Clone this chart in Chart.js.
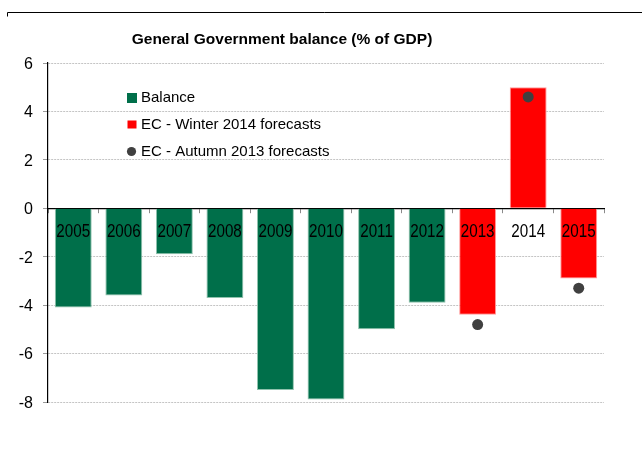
<!DOCTYPE html>
<html>
<head>
<meta charset="utf-8">
<script src="https://cdn.jsdelivr.net/npm/chart.js@4/dist/chart.umd.min.js"></script>
<style>
  html, body { margin: 0; padding: 0; background: #fff; }
  #wrap { width: 642px; height: 450px; position: relative; }
</style>
</head>
<body>
<div id="wrap"><canvas id="c" width="642" height="450"></canvas></div>
<script>
const categories = ['2005','2006','2007','2008','2009','2010','2011','2012','2013','2014','2015'];
const balance   = [-4.1, -3.6, -1.9, -3.7, -7.5, -7.9, -5.0, -3.9, null, null, null];
const winter2014 = [null, null, null, null, null, null, null, null, -4.4, 5.0, -2.9];
const autumn2013 = [null, null, null, null, null, null, null, null, -4.8, 4.6, -3.3];
const yTicks = [-8, -6, -4, -2, 0, 2, 4, 6];
const seriesNames = ['Balance', 'EC - Winter 2014 forecasts', 'EC - Autumn 2013 forecasts'];
const titleText = 'General Government balance (% of GDP)';

const GREEN = '#006F4A';
const RED = '#FF0000';
const DOT = '#404040';

const decor = {
  id: 'decor',
  afterDraw(chart) {
    const ctx = chart.ctx;
    ctx.save();
    // frame fragment at top
    ctx.strokeStyle = '#000';
    ctx.lineWidth = 1;
    ctx.beginPath();
    ctx.moveTo(7.5, 16.5);
    ctx.lineTo(7.5, 12.5);
    ctx.lineTo(642, 12.5);
    ctx.stroke();
    // title
    ctx.fillStyle = '#000';
    ctx.font = 'bold 15.5px "Liberation Sans", Arial, sans-serif';
    ctx.textAlign = 'center';
    ctx.textBaseline = 'middle';
    ctx.fillText(titleText, 282, 40);

    // category labels (condensed), sitting just under the zero line
    const xs = chart.scales.x, ys = chart.scales.y;
    const base = ys.getPixelForValue(0) + 28.5;
    ctx.font = '19px "Liberation Sans", Arial, sans-serif';
    ctx.textAlign = 'center';
    ctx.textBaseline = 'alphabetic';
    ctx.fillStyle = '#000';
    categories.forEach((lab, i) => {
      const px = xs.getPixelForValue(i);
      ctx.save();
      ctx.translate(px, base);
      ctx.scale(0.8, 1);
      ctx.fillText(lab, 0, 0);
      ctx.restore();
    });

    // legend
    ctx.font = '15px "Liberation Sans", Arial, sans-serif';
    ctx.textAlign = 'left';
    ctx.textBaseline = 'middle';
    const rows = [98, 124.5, 151.5];
    const ds = chart.data.datasets;
    ctx.fillStyle = ds[0].backgroundColor;
    ctx.fillRect(127, 93, 10, 10);
    ctx.fillStyle = ds[1].backgroundColor;
    ctx.fillRect(127.5, 120.5, 9, 8);
    ctx.fillStyle = ds[2].backgroundColor;
    ctx.beginPath();
    ctx.arc(131.5, 151.5, 4.6, 0, Math.PI * 2);
    ctx.fill();
    ctx.fillStyle = '#000';
    for (let i = 0; i < 3; i++) {
      ctx.fillText(ds[i].label, 141, rows[i]);
    }
    ctx.restore();
  }
};

new Chart(document.getElementById('c'), {
  data: {
    labels: categories,
    datasets: [
      {
        type: 'bar', label: seriesNames[0], data: balance,
        backgroundColor: GREEN, borderColor: '#8fc2ad', borderWidth: 1,
        barPercentage: 0.73, categoryPercentage: 1, order: 2
      },
      {
        type: 'bar', label: seriesNames[1], data: winter2014,
        backgroundColor: RED, borderColor: '#ff9a9a', borderWidth: 1,
        barPercentage: 0.73, categoryPercentage: 1, order: 1
      },
      {
        type: 'line', label: seriesNames[2], data: autumn2013,
        showLine: false, pointRadius: 5.5, pointHoverRadius: 5.5,
        backgroundColor: DOT, borderColor: DOT, pointBorderWidth: 0, order: 0
      }
    ]
  },
  options: {
    responsive: false,
    animation: false,
    events: [],
    layout: { padding: { top: 63, bottom: 48, left: 0, right: 38 } },
    plugins: {
      legend: { display: false },
      title: { display: false },
      tooltip: { enabled: false }
    },
    scales: {
      x: {
        type: 'category',
        position: { y: 0 },
        stacked: true,
        offset: true,
        z: 1,
        grid: {
          drawOnChartArea: false, drawTicks: true, tickLength: 4,
          offset: true, color: '#8a8a8a', tickColor: '#8a8a8a'
        },
        border: { display: true, color: '#000', width: 1.2 },
        ticks: { display: false }
      },
      y: {
        min: -8, max: 6,
        stacked: false,
        afterFit(s) { s.width = 48; },
        afterBuildTicks(s) { s.ticks = yTicks.map(v => ({ value: v })); },
        grid: {
          color: (c) => (c.tick && c.tick.value === 0) ? 'rgba(0,0,0,0)' : '#c4c4c4',
          tickColor: '#9a9a9a',
          tickLength: 5,
          tickBorderDash: [],
          lineWidth: 1
        },
        border: { display: true, color: '#000', width: 1.2, dash: [2, 1] },
        ticks: {
          color: '#000', padding: 10, labelOffset: 1.5,
          font: { family: '"Liberation Sans", Arial, sans-serif', size: 16 }
        }
      }
    }
  },
  plugins: [decor]
});
</script>
</body>
</html>
